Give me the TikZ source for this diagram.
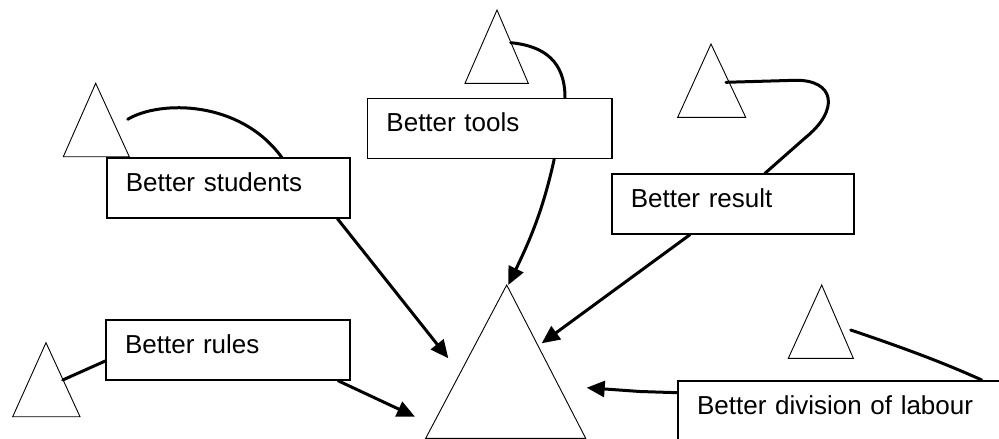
\documentclass[tikz,border=0pt]{standalone}
\usepackage{fontspec}
\setmainfont{Liberation Sans}
\usetikzlibrary{arrows.meta}
\begin{document}
\begin{tikzpicture}[x=1pt,y=-1pt,
  tri/.style={draw=black,line width=0.9pt,line join=miter},
  box/.style={draw=black,fill=white,line width=1.5pt,anchor=north west,
    inner xsep=19pt,inner ysep=0pt,align=left,
    text height=33.5pt,text depth=26.5pt,
    font=\fontsize{26}{30}\selectfont},
  link/.style={draw=black,line width=3pt,line cap=round},
  feed/.style={link,-{Triangle[length=18pt,width=16pt]}}]
\clip (0,0) rectangle (999,439);
\fill[white] (0,0) rectangle (999,439);

% small triangles beside the boxes
\draw[tri] (95.7,83.3) coordinate (t1) -- (129.3,156.7) -- (63.3,156.7) -- cycle;
\draw[tri] (497,10) coordinate (t2) -- (528.3,83.3) -- (465,83.3) -- cycle;
\draw[tri] (711,44) coordinate (t3) -- (745.7,117.3) -- (677.7,117.3) -- cycle;
\draw[tri] (46,342.7) coordinate (t4) -- (80,416.7) -- (12.7,416.7) -- cycle;
\draw[tri] (821.7,285) coordinate (t5) -- (853.3,358.3) -- (788.3,358.3) -- cycle;

% central triangle
\draw[tri] (506.7,285) coordinate (goal) -- (585.7,438.3) -- (425.7,438.3) -- cycle;

% boxes
\node[box,text width=205.3pt] (students) at (106,157.3) {Better students};
\node[box,text width=206.3pt] (tools) at (366.7,97.7) {Better tools};
\node[box,text width=204.3pt] (result) at (611,173.3) {Better result};
\node[box,text width=206pt] (rules) at (105.3,319.3) {Better rules};
\node[box,text width=302pt] (division) at (677.3,380) {Better division of labour};

% attachment points
\coordinate (c1a) at (127.7,119.3);
\coordinate (c2a) at (510.7,42.7);
\coordinate (c3a) at (726,82.3);
\coordinate (c4a) at (62.7,380);
\coordinate (c5a) at (850.7,330);
\coordinate (c1b) at ([xshift=175.7pt]students.north west);
\coordinate (c2b) at ([xshift=198.3pt]tools.north west);
\coordinate (c3b) at ([xshift=154pt]result.north west);
\coordinate (c4b) at ([yshift=-41.7pt]rules.north west);
\coordinate (c5b) at ([xshift=304.4pt]division.north west);

% links from the small triangles to their boxes
\draw[link] (c1a) .. controls (160,100) and (240,100) .. (c1b);
\draw[link] (c2a) .. controls (545,46) and (565,62) .. (c2b);
\draw[link] (c3a) -- (795,80.3) .. controls (835,79.5) and (840,110) .. (805,138) -- (c3b);
\draw[link] (c4a) -- (c4b);
\draw[link] (c5a) .. controls (895,345) and (940,361) .. (c5b);

% arrows into the central triangle
\coordinate (s1) at ([xshift=-13.3pt]students.south east);
\coordinate (s2) at ([xshift=-58.3pt]tools.south east);
\coordinate (s3) at ([xshift=-165pt]result.south east);
\coordinate (s4) at ([xshift=-12.6pt]rules.south east);
\coordinate (s5) at ([yshift=-12.7pt]division.north west);
\coordinate (g1) at (448.3,358.3);
\coordinate (g2) at (508.3,285);
\coordinate (g3) at (541.7,343.3);
\coordinate (g4) at (415,416.7);
\coordinate (g5) at (586.7,387.7);
\draw[feed] (s1) -- (g1);
\draw[feed] (s2) .. controls (543,210) and (530,240) .. (g2);
\draw[feed] (s3) -- (g3);
\draw[feed] (s4) -- (g4);
\draw[feed] (s5) -- (640,391.5) -- (g5);
\end{tikzpicture}
\end{document}
